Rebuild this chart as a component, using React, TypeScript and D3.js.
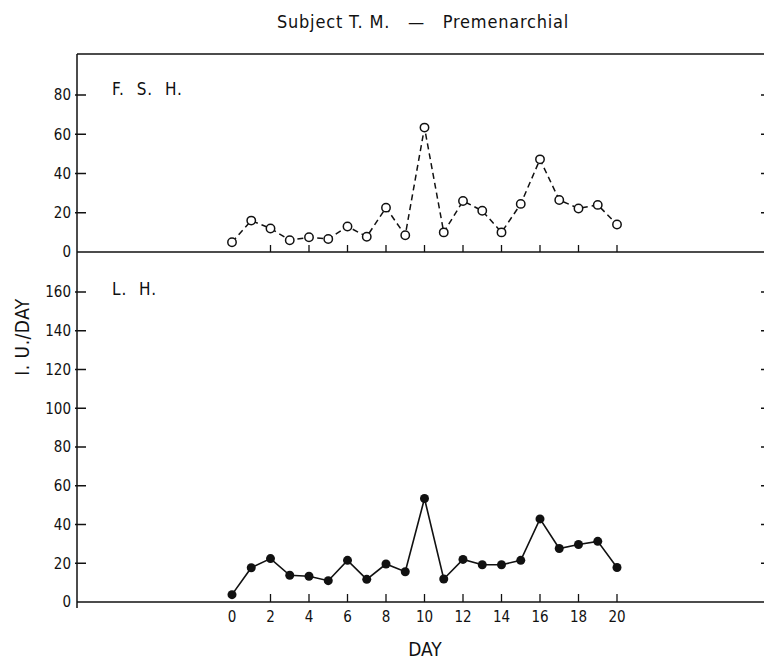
import React from 'react';
import * as d3 from 'd3';

// days of collection
const days = [0, 1, 2, 3, 4, 5, 6, 7, 8, 9, 10, 11, 12, 13, 14, 15, 16, 17, 18, 19, 20];
// F.S.H. (I.U./day), open circles, dashed
const fsh = [5, 16, 12, 6, 7.5, 6.6, 13, 7.8, 22.6, 8.5, 63.4, 10, 26, 21, 10, 24.5, 47.2, 26.5, 22.2, 24, 14];
// L.H. (I.U./day), filled circles, solid
const lh = [3.8, 17.7, 22.4, 13.8, 13.3, 11, 21.5, 11.7, 19.6, 15.6, 53.4, 11.9, 22, 19.2, 19.2, 21.5, 42.9, 27.6, 29.7, 31.3, 17.8];

const dayTicks = [0, 2, 4, 6, 8, 10, 12, 14, 16, 18, 20];
const fshTicks = [0, 20, 40, 60, 80];
const lhTicks = [0, 20, 40, 60, 80, 100, 120, 140, 160];

const title = 'Subject T. M.   —   Premenarchial';
const font = "'DejaVu Sans Condensed', 'Liberation Sans Narrow', sans-serif";

const App = () => {
  const left = 77;
  const right = 764;
  const top = 54;
  const mid = 252;
  const bottom = 602;

  const x = d3.scaleLinear().domain([0, 20]).range([232, 617]);
  const yTop = d3.scaleLinear().domain([0, 80]).range([mid, 95]);
  const yBot = d3.scaleLinear().domain([0, 160]).range([bottom, 292]);

  const fshLine = d3.line<number>().x((d, i) => x(days[i])).y((d) => yTop(d));
  const lhLine = d3.line<number>().x((d, i) => x(days[i])).y((d) => yBot(d));

  return (
    <svg width={764} height={660} style={{ position: 'absolute', left: 0, top: 0, background: '#fff' }} fontFamily={font} fill='#111'>
      <text x={423} y={28} textAnchor='middle' fontSize={18} letterSpacing={0.8} style={{ whiteSpace: 'pre' }}>{title}</text>

      {/* frame */}
      <g stroke='#111' strokeWidth={1.5} fill='none'>
        <line x1={left} x2={right} y1={top} y2={top} />
        <line x1={left} x2={right} y1={mid} y2={mid} />
        <line x1={left} x2={right} y1={bottom} y2={bottom} />
        <line x1={left} x2={left} y1={top} y2={bottom + 6} />
      </g>

      {/* left ticks & labels */}
      {fshTicks.map((t) => (
        <g key={'ft' + t}>
          {t > 0 && <line x1={left - 2} x2={left + 9} y1={yTop(t)} y2={yTop(t)} stroke='#111' strokeWidth={1.5} />}
          {t > 0 && <line x1={right - 3} x2={right} y1={yTop(t)} y2={yTop(t)} stroke='#111' strokeWidth={1.5} />}
          <text x={left - 6} y={yTop(t)} dy='0.35em' textAnchor='end' fontSize={15}>{t}</text>
        </g>
      ))}
      {lhTicks.map((t) => (
        <g key={'lt' + t}>
          {t > 0 && <line x1={left - 2} x2={left + 9} y1={yBot(t)} y2={yBot(t)} stroke='#111' strokeWidth={1.5} />}
          {t > 0 && <line x1={right - 3} x2={right} y1={yBot(t)} y2={yBot(t)} stroke='#111' strokeWidth={1.5} />}
          <text x={left - 6} y={yBot(t)} dy='0.35em' textAnchor='end' fontSize={15}>{t}</text>
        </g>
      ))}

      {/* day ticks */}
      {dayTicks.filter((d) => d > 0).map((d) => (
        <g key={'dt' + d} stroke='#111' strokeWidth={1.3}>
          <line x1={x(d)} x2={x(d)} y1={mid} y2={mid - 7} />
          <line x1={x(d)} x2={x(d)} y1={bottom} y2={bottom - 8} />
        </g>
      ))}
      {dayTicks.map((d) => (
        <text key={'dl' + d} x={x(d)} y={bottom + 15} dy='0.35em' textAnchor='middle' fontSize={15}>{d}</text>
      ))}

      <text x={112} y={95} fontSize={17} letterSpacing={1} style={{ whiteSpace: 'pre' }}>{'F.  S.  H.'}</text>
      <text x={112} y={295} fontSize={17} letterSpacing={1} style={{ whiteSpace: 'pre' }}>{'L.  H.'}</text>
      <text transform='translate(29, 337) rotate(-90)' textAnchor='middle' fontSize={19} letterSpacing={0.5}>I. U./DAY</text>
      <text x={425} y={656} textAnchor='middle' fontSize={19}>DAY</text>

      {/* F.S.H. series */}
      <path d={fshLine(fsh) || ''} fill='none' stroke='#111' strokeWidth={1.5} strokeDasharray='6,4' />
      {fsh.map((v, i) => (
        <circle key={'f' + i} cx={x(days[i])} cy={yTop(v)} r={4.2} fill='#fff' stroke='#111' strokeWidth={1.5} />
      ))}

      {/* L.H. series */}
      <path d={lhLine(lh) || ''} fill='none' stroke='#111' strokeWidth={1.6} />
      {lh.map((v, i) => (
        <circle key={'l' + i} cx={x(days[i])} cy={yBot(v)} r={4.5} fill='#111' />
      ))}
    </svg>
  );
};

export default App;
